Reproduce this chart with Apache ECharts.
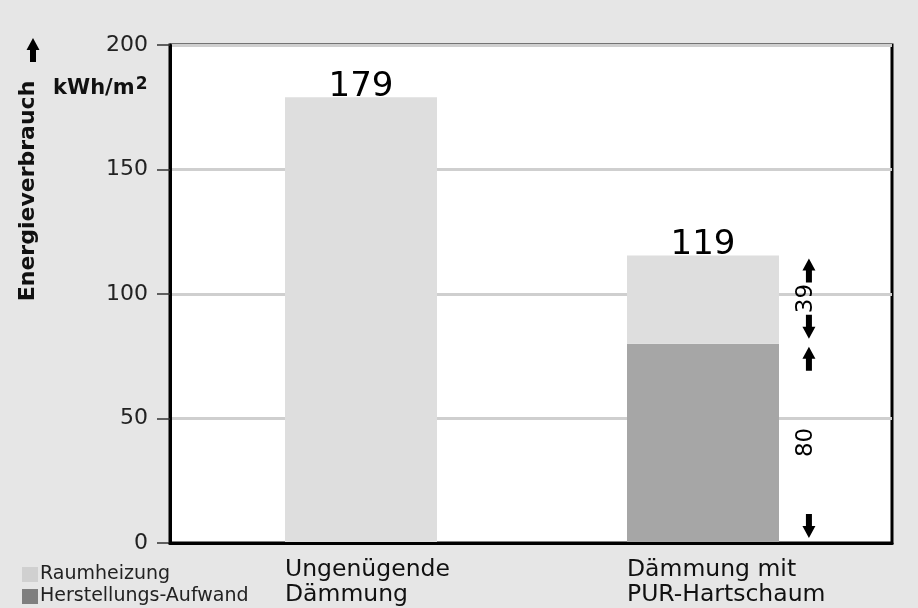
<!DOCTYPE html>
<html>
<head>
<meta charset="utf-8">
<script src="https://cdn.jsdelivr.net/npm/echarts@6/dist/echarts.min.js"></script>
<style>
html,body{margin:0;padding:0;background:#e6e6e6;}
#c{width:918px;height:608px;}
</style>
</head>
<body>
<div id="c"></div>
<script>
// ---- data ----
var categories = ['Ungenügende\nDämmung', 'Dämmung mit\nPUR-Hartschaum'];
var heating = [179, 35.5];          // Raumheizung (as drawn)
var production = [0, 80];           // Herstellungs-Aufwand
var totalLabels = ['179', '119'];
var heatingLabels = ['', '39'];
var productionLabels = ['', '80'];
var yTicks = [0, 50, 100, 150, 200];
var seriesNames = ['Raumheizung', 'Herstellungs-Aufwand'];

var FONT = 'DejaVu Sans';

// segments for dimension arrows: [category index, low, high]
var segments = [];
var segmentLabels = [];
for (var i = 0; i < categories.length; i++) {
  if (productionLabels[i]) { segments.push([i, 0, production[i]]); segmentLabels.push(productionLabels[i]); }
  if (heatingLabels[i]) { segments.push([i, production[i], production[i] + heating[i]]); segmentLabels.push(heatingLabels[i]); }
}

function arrowPoints(x, yTip, dir, L, hw, sw, hh) {
  // dir = -1 : points up (tip at yTip); dir = 1 : points down
  var d = -dir;
  return [
    [x, yTip], [x + hw, yTip + d * hh], [x + sw, yTip + d * hh], [x + sw, yTip + d * L],
    [x - sw, yTip + d * L], [x - sw, yTip + d * hh], [x - hw, yTip + d * hh]
  ];
}

function renderDim(params, api) {
  var idx = api.value(0), lo = api.value(1), hi = api.value(2);
  var pTop = api.coord([idx, hi]);
  var pBot = api.coord([idx, lo]);
  var band = api.size([1, 0])[0];
  var x = pTop[0] + band * 0.222 + 30;
  var yT = pTop[1] + 3, yB = pBot[1] - 5;
  return {
    type: 'group',
    children: [
      { type: 'polygon', shape: { points: arrowPoints(x, yT, -1, 24, 6.5, 3, 12) }, style: { fill: '#000' } },
      { type: 'polygon', shape: { points: arrowPoints(x, yB, 1, 24, 6.5, 3, 12) }, style: { fill: '#000' } },
      {
        type: 'text', x: x - 3, y: (yT + yB) / 2, rotation: Math.PI / 2,
        style: { text: segmentLabels[params.dataIndex], fill: '#000', font: '23px "' + FONT + '"', align: 'center', verticalAlign: 'middle' }
      }
    ]
  };
}

var chart = echarts.init(document.getElementById('c'));
var option = {
  backgroundColor: '#e6e6e6',
  animation: false,
  textStyle: { fontFamily: FONT },
  grid: [
    { left: 170, top: 45, width: 722, height: 498, show: true, backgroundColor: '#ffffff', borderColor: '#000', borderWidth: 3 },
    { left: 190, top: 45, width: 684, height: 498 }
  ],
  xAxis: [
    { type: 'category', gridIndex: 0, data: [''], z: 5,
      axisLine: { show: true, lineStyle: { color: '#000', width: 3 } },
      axisTick: { show: false }, axisLabel: { show: false }, splitLine: { show: false } },
    { type: 'category', gridIndex: 1, data: categories,
      axisLine: { show: false }, axisTick: { show: false },
      axisLabel: {
        interval: 0, margin: 14, align: 'center', color: '#111',
        formatter: function (v) { return v.split('\n').map(function (s) { return '{a|' + s + '}'; }).join('\n'); },
        rich: { a: { width: 152, align: 'left', fontSize: 23.5, lineHeight: 25, fontFamily: FONT, color: '#111' } }
      } }
  ],
  yAxis: [
    { type: 'value', gridIndex: 0, min: 0, max: 200, interval: 50,
      axisLine: { show: true, lineStyle: { color: '#000', width: 3 } },
      axisTick: { show: true, length: 13, lineStyle: { color: '#333', width: 1.5 } },
      axisLabel: { margin: 22, fontSize: 22, color: '#222', fontFamily: FONT,
        formatter: function (v) { return yTicks.indexOf(v) >= 0 ? String(v) : ''; } },
      splitLine: { show: true, lineStyle: { color: '#cfcfcf', width: 3 } } },
    { type: 'value', gridIndex: 1, min: 0, max: 200, interval: 50, show: false, splitLine: { show: false } }
  ],
  legend: {
    orient: 'vertical', left: 22, top: 565, height: 80, padding: 0, itemGap: 3,
    itemWidth: 16, itemHeight: 15, icon: 'rect',
    textStyle: { fontSize: 19, lineHeight: 18, color: '#222', fontFamily: FONT, padding: [0, 0, 0, -3] },
    data: [
      { name: seriesNames[0], itemStyle: { color: '#d0d0d0' } },
      { name: seriesNames[1], itemStyle: { color: '#7f7f7f' } }
    ]
  },
  series: [
    { name: seriesNames[1], type: 'bar', stack: 'total', xAxisIndex: 1, yAxisIndex: 1,
      barWidth: 152, data: production, itemStyle: { color: '#a6a6a6' } },
    { name: seriesNames[0], type: 'bar', stack: 'total', xAxisIndex: 1, yAxisIndex: 1,
      barWidth: 152, data: heating, itemStyle: { color: '#dedede' },
      label: { show: true, position: 'top', distance: -7, fontSize: 34, lineHeight: 34, color: '#000', fontFamily: FONT,
        formatter: function (p) { return totalLabels[p.dataIndex]; } } },
    { type: 'custom', xAxisIndex: 1, yAxisIndex: 1, renderItem: renderDim, data: segments, z: 10, silent: true }
  ],
  graphic: [
    { type: 'polygon', z: 10, shape: { points: arrowPoints(33, 38, -1, 24, 6.5, 3, 12) }, style: { fill: '#000' } },
    { type: 'text', z: 10, x: 28, y: 191, rotation: Math.PI / 2,
      style: { text: 'Energieverbrauch', font: 'bold 22px "' + FONT + '"', fill: '#111', align: 'center', verticalAlign: 'middle' } },
    { type: 'text', z: 10, x: 53, y: 89,
      style: { text: '{b|kWh/m}{s|2}', fill: '#111', verticalAlign: 'middle',
        rich: { b: { font: 'bold 21px "' + FONT + '"', fill: '#111' }, s: { font: 'bold 17px "' + FONT + '"', fill: '#111', verticalAlign: 'top', padding: [0, 0, 8, 1] } } } }
  ]
};
chart.setOption(option);
</script>
</body>
</html>
